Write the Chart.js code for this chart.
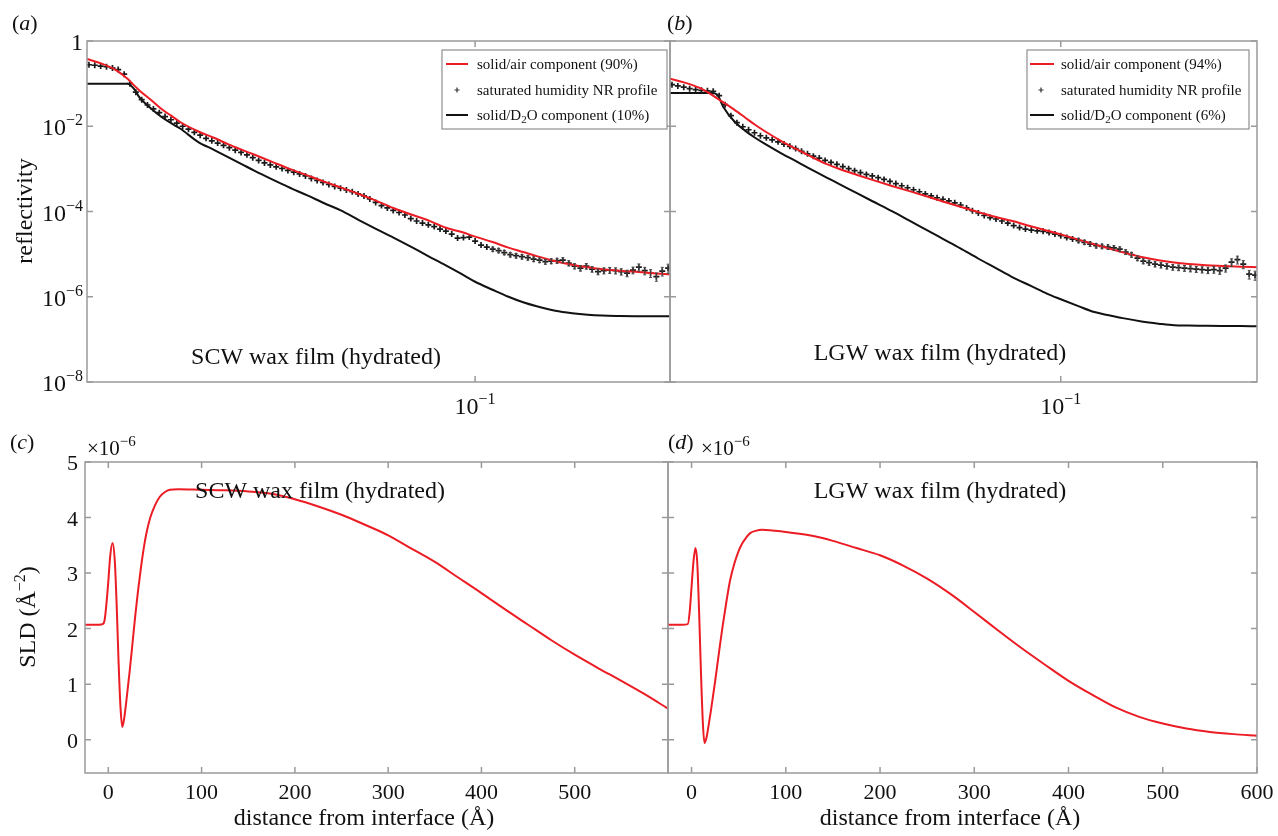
<!DOCTYPE html>
<html>
<head>
<meta charset="utf-8">
<script src="https://cdn.jsdelivr.net/npm/chart.js@4.4.1/dist/chart.umd.min.js"></script>
<style>
    body { margin: 0; background: #fff; width: 1278px; height: 836px; overflow: hidden; position: relative; }
    canvas { position: absolute; left: 0; }
    #chartA, #chartB { top: 0; }
    #chartC, #chartD { top: 420px; }
</style>
</head>
<body>
<canvas id="chartA" width="1278" height="420"></canvas>
<canvas id="chartB" width="1278" height="420"></canvas>
<canvas id="chartC" width="1278" height="416"></canvas>
<canvas id="chartD" width="1278" height="416"></canvas>
<script>
/** DATA */

// measured points, q in 1/Å
const qData = [
    0.01213, 0.01252, 0.01293, 0.01335, 0.01379, 0.01423, 0.01470, 0.01517, 0.01567, 0.01618,
    0.01670, 0.01725, 0.01781, 0.01838, 0.01898, 0.01960, 0.02024, 0.02089, 0.02157, 0.02227,
    0.02300, 0.02373, 0.02450, 0.02530, 0.02612, 0.02697, 0.02784, 0.02875, 0.02968, 0.03065,
    0.03164, 0.03267, 0.03373, 0.03483, 0.03596, 0.03713, 0.03833, 0.03958, 0.04087, 0.04219,
    0.04356, 0.04498, 0.04644, 0.04795, 0.04950, 0.05111, 0.05277, 0.05449, 0.05626, 0.05808,
    0.05997, 0.06192, 0.06393, 0.06601, 0.06815, 0.07037, 0.07265, 0.07501, 0.07745, 0.07997,
    0.08256, 0.08524, 0.08801, 0.09087, 0.09383, 0.09687, 0.1000, 0.1033, 0.1066, 0.1101,
    0.1137, 0.1173, 0.1212, 0.1251, 0.1292, 0.1334, 0.1377, 0.1422, 0.1468, 0.1516,
    0.1565, 0.1615, 0.1668, 0.1722, 0.1778, 0.1836, 0.1895, 0.1957, 0.2021, 0.2086,
    0.2154, 0.2222, 0.2294, 0.2369, 0.2446, 0.2526, 0.2608, 0.2692, 0.2780, 0.2870
];

const reflDataA = [
    0.277, 0.270, 0.258, 0.2485, 0.232, 0.2135, 0.167, 0.100, 0.0631, 0.0420,
    0.0315, 0.0255, 0.0208, 0.0169, 0.0142, 0.0119, 0.0100, 8.55e-3, 7.19e-3, 6.17e-3,
    5.22e-3, 4.56e-3, 4.02e-3, 3.57e-3, 3.15e-3, 2.75e-3, 2.43e-3, 2.14e-3, 1.83e-3, 1.58e-3,
    1.38e-3, 1.24e-3, 1.12e-3, 1.02e-3, 9.22e-4, 8.37e-4, 7.63e-4, 6.84e-4, 5.98e-4, 5.36e-4,
    4.81e-4, 4.32e-4, 3.88e-4, 3.52e-4, 3.21e-4, 2.91e-4, 2.58e-4, 2.32e-4, 1.97e-4, 1.63e-4,
    1.38e-4, 1.21e-4, 1.06e-4, 9.47e-5, 8.27e-5, 6.84e-5, 5.98e-5, 5.36e-5, 4.87e-5, 4.44e-5,
    3.88e-5, 3.48e-5, 2.96e-5, 2.38e-5, 2.45e-5, 2.51e-5, 2.02e-5, 1.63e-5, 1.46e-5, 1.31e-5,
    1.21e-5, 1.09e-5, 9.73e-6, 9.22e-6, 8.73e-6, 8.27e-6, 7.63e-6, 7.22e-6, 6.66e-6, 6.84e-6,
    7.03e-6, 7.22e-6, 6.14e-6, 5.22e-6, 4.68e-6, 5.22e-6, 4.44e-6, 3.88e-6, 4.09e-6, 4.20e-6,
    4.09e-6, 3.88e-6, 3.57e-6, 4.20e-6, 4.94e-6, 4.09e-6, 3.57e-6, 2.96e-6, 3.98e-6, 4.68e-6
];

const reflDataB = [
    0.0947, 0.0883, 0.0827, 0.0763, 0.0722, 0.0696, 0.0677, 0.0659, 0.0522, 0.0321,
    0.0177, 0.0121, 9.73e-3, 8.27e-3, 7.03e-3, 5.98e-3, 5.36e-3, 4.81e-3, 4.32e-3, 3.81e-3,
    3.38e-3, 2.99e-3, 2.58e-3, 2.25e-3, 1.99e-3, 1.79e-3, 1.58e-3, 1.42e-3, 1.28e-3, 1.13e-3,
    1.01e-3, 9.07e-4, 8.18e-4, 7.42e-4, 6.84e-4, 6.21e-4, 5.66e-4, 5.08e-4, 4.51e-4, 4.02e-4,
    3.61e-4, 3.24e-4, 2.91e-4, 2.58e-4, 2.32e-4, 2.10e-4, 1.94e-4, 1.77e-4, 1.60e-4, 1.42e-4,
    1.21e-4, 1.04e-4, 9.22e-5, 8.05e-5, 7.22e-5, 6.66e-5, 5.98e-5, 5.36e-5, 4.68e-5, 4.20e-5,
    3.88e-5, 3.67e-5, 3.53e-5, 3.42e-5, 3.21e-5, 2.96e-5, 2.70e-5, 2.45e-5, 2.25e-5, 2.08e-5,
    1.89e-5, 1.72e-5, 1.58e-5, 1.52e-5, 1.46e-5, 1.40e-5, 1.31e-5, 1.12e-5, 9.73e-6, 8.05e-6,
    6.84e-6, 6.31e-6, 5.82e-6, 5.51e-6, 5.22e-6, 4.94e-6, 4.81e-6, 4.68e-6, 4.56e-6, 4.44e-6,
    4.32e-6, 4.20e-6, 4.32e-6, 4.09e-6, 4.68e-6, 6.48e-6, 7.42e-6, 5.82e-6, 3.38e-6, 3.21e-6
];

// relative error on each measured point
const relErr = [
    0.02, 0.02, 0.02, 0.02, 0.02, 0.02, 0.02, 0.02, 0.02, 0.02,
    0.02, 0.02, 0.02, 0.02, 0.02, 0.02, 0.02, 0.02, 0.02, 0.02,
    0.03, 0.03, 0.03, 0.03, 0.03, 0.035, 0.035, 0.035, 0.035, 0.035,
    0.04, 0.04, 0.04, 0.04, 0.04, 0.045, 0.045, 0.045, 0.045, 0.045,
    0.05, 0.05, 0.05, 0.055, 0.055, 0.055, 0.06, 0.06, 0.06, 0.065,
    0.065, 0.07, 0.07, 0.07, 0.075, 0.075, 0.08, 0.08, 0.085, 0.085,
    0.09, 0.09, 0.095, 0.095, 0.1, 0.1, 0.1, 0.105, 0.105, 0.11,
    0.11, 0.115, 0.115, 0.12, 0.12, 0.12, 0.125, 0.125, 0.13, 0.13,
    0.135, 0.135, 0.14, 0.14, 0.145, 0.15, 0.15, 0.155, 0.16, 0.16,
    0.165, 0.17, 0.175, 0.18, 0.19, 0.2, 0.21, 0.22, 0.23, 0.24
];

// model components
const qFit = [
    0.012, 0.013, 0.014, 0.0145, 0.015, 0.0155, 0.016, 0.017, 0.018, 0.019,
    0.02, 0.022, 0.024, 0.026, 0.028, 0.03, 0.033, 0.036, 0.04, 0.044,
    0.048, 0.053, 0.058, 0.064, 0.07, 0.077, 0.085, 0.093, 0.1, 0.11,
    0.12, 0.13, 0.14, 0.155, 0.17, 0.185, 0.2, 0.22, 0.24, 0.265, 0.29
];

const airFitA = [
    0.377, 0.2955, 0.2135, 0.167, 0.1276, 0.0922, 0.0684, 0.0420, 0.0258, 0.0177,
    0.0124, 7.63e-3, 5.36e-3, 3.77e-3, 2.80e-3, 2.14e-3, 1.46e-3, 1.03e-3, 7.03e-4, 4.94e-4,
    3.67e-4, 2.58e-4, 1.82e-4, 1.21e-4, 8.73e-5, 6.31e-5, 4.20e-5, 3.29e-5, 2.58e-5, 1.92e-5,
    1.42e-5, 1.12e-5, 8.97e-6, 6.84e-6, 5.66e-6, 4.94e-6, 4.44e-6, 4.09e-6, 3.88e-6, 3.57e-6, 3.38e-6
];

const d2oFitA = [
    0.1, 0.1, 0.1, 0.1, 0.1, 0.0763, 0.0468, 0.0265, 0.0167, 0.0118,
    8.73e-3, 4.32e-3, 2.80e-3, 1.87e-3, 1.28e-3, 8.97e-4, 5.66e-4, 3.77e-4, 2.38e-4, 1.54e-4,
    1.06e-4, 6.31e-5, 3.98e-5, 2.45e-5, 1.54e-5, 9.22e-6, 5.51e-6, 3.38e-6, 2.25e-6, 1.46e-6,
    1.0e-6, 7.42e-7, 5.98e-7, 4.68e-7, 4.09e-7, 3.77e-7, 3.61e-7, 3.53e-7, 3.49e-7, 3.48e-7, 3.48e-7
];

const airFitB = [
    0.131, 0.1056, 0.0814, 0.0684, 0.0560, 0.0449, 0.0367, 0.0245, 0.0163, 0.0110,
    7.84e-3, 4.44e-3, 2.82e-3, 1.87e-3, 1.31e-3, 1.01e-3, 7.30e-4, 5.51e-4, 3.98e-4, 3.00e-4,
    2.32e-4, 1.70e-4, 1.29e-4, 9.68e-5, 7.50e-5, 5.98e-5, 4.51e-5, 3.52e-5, 2.91e-5, 2.19e-5,
    1.71e-5, 1.36e-5, 1.10e-5, 8.59e-6, 7.22e-6, 6.35e-6, 5.85e-6, 5.48e-6, 5.28e-6, 5.08e-6, 4.94e-6
];

const d2oFitB = [
    0.06, 0.06, 0.06, 0.06, 0.06, 0.0554, 0.0292, 0.0131, 8.01e-3, 5.45e-3,
    3.96e-3, 2.29e-3, 1.44e-3, 9.32e-4, 6.35e-4, 4.46e-4, 2.72e-4, 1.74e-4, 1.02e-4, 6.11e-5,
    3.81e-5, 2.23e-5, 1.37e-5, 7.79e-6, 4.81e-6, 2.86e-6, 1.80e-6, 1.17e-6, 8.73e-7, 6.04e-7,
    4.37e-7, 3.67e-7, 3.15e-7, 2.64e-7, 2.34e-7, 2.14e-7, 2.11e-7, 2.09e-7, 2.07e-7, 2.05e-7, 2.02e-7
];

// SLD profiles, distance in Å, SLD in units of 1e-6 Å^-2
const distC = [
    -25, -10, -6, -4, -2, 0, 2, 4.5, 7, 9, 11, 13, 15, 17, 19, 21, 23, 26, 29, 32,
    35, 38, 41, 45, 50, 55, 60, 66, 75, 100, 125, 150, 175, 200, 225, 250, 275, 300, 325, 350,
    375, 400, 425, 450, 475, 500, 525, 550, 575, 600
];
const sldC = [
    2.07, 2.07, 2.08, 2.15, 2.45, 2.85, 3.3, 3.54, 3.2, 2.4, 1.4, 0.6, 0.23, 0.38, 0.65, 0.95, 1.25, 1.75, 2.25, 2.7,
    3.1, 3.45, 3.73, 4.0, 4.22, 4.37, 4.45, 4.5, 4.51, 4.5, 4.49, 4.47, 4.43, 4.33, 4.2, 4.05, 3.87, 3.68, 3.44, 3.2,
    2.92, 2.64, 2.35, 2.07, 1.79, 1.53, 1.29, 1.06, 0.82, 0.56
];

const distD = [
    -25, -10, -4, -2, 0, 2, 4.1, 6, 8, 10, 12, 13.7, 16, 18, 20.7, 25, 29, 33, 37.3, 41,
    45.6, 50, 54, 58, 62.2, 68, 74.7, 100, 125, 150, 175, 200, 225, 250, 275, 300, 325, 350, 375, 400,
    425, 450, 475, 500, 525, 550, 575, 600
];
const sldD = [
    2.07, 2.07, 2.08, 2.3, 2.75, 3.2, 3.45, 3.2, 2.3, 1.2, 0.3, -0.06, 0.05, 0.25, 0.54, 1.05, 1.56, 2.05, 2.52, 2.88,
    3.18, 3.4, 3.54, 3.64, 3.72, 3.76, 3.78, 3.74, 3.68, 3.58, 3.45, 3.32, 3.13, 2.9, 2.62, 2.3, 1.97, 1.65, 1.35, 1.06,
    0.81, 0.58, 0.41, 0.29, 0.2, 0.14, 0.1, 0.07
];

const qTicks = [0.1];
const reflTicks = [1e-8, 1e-6, 1e-4, 1e-2, 1];
const distTicksC = [0, 100, 200, 300, 400, 500];
const distTicksD = [0, 100, 200, 300, 400, 500, 600];
const sldTicks = [0, 1, 2, 3, 4, 5];

const legendA = ['solid/air component (90%)', 'saturated humidity NR profile', ['solid/D', '2', 'O component (10%)']];
const legendB = ['solid/air component (94%)', 'saturated humidity NR profile', ['solid/D', '2', 'O component (6%)']];

/** DRAWING HELPERS */

const RED = '#ec1c24';
const INK = '#111111';
const FRAME = '#9a9a9a';
const SERIF = "'Liberation Serif', 'Times New Roman', serif";

const pts = (xs, ys) => xs.map((x, i) => ({ x, y: ys[i] }));

const font = (size, italic) => `${italic ? 'italic ' : ''}${size}px ${SERIF}`;

// runs: [text, size, rise, italic]
const drawRuns = (ctx, runs, x, y, align) => {
    let width = 0;
    runs.forEach(r => { ctx.font = font(r[1], r[3]); width += ctx.measureText(r[0]).width; });
    let cx = align === 'center' ? x - width / 2 : (align === 'right' ? x - width : x);
    ctx.textAlign = 'left';
    ctx.textBaseline = 'alphabetic';
    runs.forEach(r => {
        ctx.font = font(r[1], r[3]);
        ctx.fillText(r[0], cx, y - (r[2] || 0));
        cx += ctx.measureText(r[0]).width;
    });
};

const powerLabel = v => {
    const e = Math.round(Math.log10(v));
    return e === 0 ? [['1', 24]] : [['10', 24], ['\u2212' + (-e), 16, 10]];
};

const plainLabel = v => [[String(v), 22]];

const legendRuns = label => Array.isArray(label)
    ? [[label[0], 15], [label[1], 11, -3], [label[2], 15]]
    : [[label, 15]];

const makeDecor = (cfg) => ({
    id: 'decor',
    afterDatasetsDraw(chart) {
        const ctx = chart.ctx;
        const ys = chart.scales.y;
        chart.data.datasets.forEach((ds, i) => {
            if (!ds.errors) return;
            const meta = chart.getDatasetMeta(i);
            ctx.save();
            ctx.strokeStyle = '#444';
            ctx.lineWidth = 1;
            ctx.beginPath();
            meta.data.forEach((pt, j) => {
                const v = ds.data[j].y;
                const y0 = ys.getPixelForValue(v * (1 + ds.errors[j]));
                const y1 = ys.getPixelForValue(v * (1 - ds.errors[j]));
                if (y1 - y0 < 4) return;
                ctx.moveTo(pt.x, y0); ctx.lineTo(pt.x, y1);
                ctx.moveTo(pt.x - 1.5, y0); ctx.lineTo(pt.x + 1.5, y0);
                ctx.moveTo(pt.x - 1.5, y1); ctx.lineTo(pt.x + 1.5, y1);
            });
            ctx.stroke();
            ctx.restore();
        });
    },
    afterDraw(chart) {
        const ctx = chart.ctx;
        const { left: l, right: r, top: t, bottom: b } = chart.chartArea;
        const xs = chart.scales.x;
        const ys = chart.scales.y;
        ctx.save();

        // box and inward ticks
        ctx.strokeStyle = FRAME;
        ctx.lineWidth = 1.5;
        ctx.strokeRect(l, t, r - l, b - t);
        ctx.beginPath();
        cfg.xTicks.forEach(v => {
            const p = xs.getPixelForValue(v);
            ctx.moveTo(p, b); ctx.lineTo(p, b - 6);
            ctx.moveTo(p, t); ctx.lineTo(p, t + 6);
        });
        cfg.yTicks.forEach(v => {
            const p = ys.getPixelForValue(v);
            ctx.moveTo(l, p); ctx.lineTo(l + 6, p);
            ctx.moveTo(r, p); ctx.lineTo(r - 6, p);
        });
        ctx.stroke();

        ctx.fillStyle = INK;
        if (cfg.xLabel) {
            cfg.xTicks.forEach(v => drawRuns(ctx, cfg.xLabel(v), xs.getPixelForValue(v), b + cfg.xLabelDy, 'center'));
        }
        if (cfg.yLabel) {
            cfg.yTicks.forEach(v => drawRuns(ctx, cfg.yLabel(v), l - cfg.yLabelDx, ys.getPixelForValue(v) + cfg.yLabelDy, 'right'));
        }

        cfg.notes.forEach(n => {
            if (n.rotate) {
                ctx.save();
                ctx.translate(n.x, n.y);
                ctx.rotate(-Math.PI / 2);
                drawRuns(ctx, n.runs, 0, 0, 'center');
                ctx.restore();
            } else {
                drawRuns(ctx, n.runs, n.x, n.y, n.align);
            }
        });

        const lg = cfg.legend;
        if (lg) {
            const [bl, bt, br, bb] = lg.box;
            ctx.fillStyle = '#fff';
            ctx.fillRect(bl, bt, br - bl, bb - bt);
            ctx.strokeStyle = '#8f8f8f';
            ctx.lineWidth = 1.2;
            ctx.strokeRect(bl, bt, br - bl, bb - bt);
            ctx.lineWidth = 2;
            ctx.strokeStyle = RED;
            ctx.beginPath(); ctx.moveTo(lg.line[0], lg.rows[0]); ctx.lineTo(lg.line[1], lg.rows[0]); ctx.stroke();
            ctx.strokeStyle = INK;
            ctx.beginPath(); ctx.moveTo(lg.line[0], lg.rows[2]); ctx.lineTo(lg.line[1], lg.rows[2]); ctx.stroke();
            ctx.lineWidth = 1.2;
            ctx.strokeStyle = '#333';
            ctx.beginPath();
            ctx.moveTo(lg.mark - 2.5, lg.rows[1]); ctx.lineTo(lg.mark + 2.5, lg.rows[1]);
            ctx.moveTo(lg.mark, lg.rows[1] - 2.5); ctx.lineTo(lg.mark, lg.rows[1] + 2.5);
            ctx.stroke();
            ctx.fillStyle = INK;
            lg.labels.forEach((label, i) => drawRuns(ctx, legendRuns(label), lg.text, lg.rows[i] + 5, 'left'));
        }
        ctx.restore();
    }
});

/** PANELS */

const panel = (id, frame, xOpts, yOpts, datasets, cfg) => {
    const canvas = document.getElementById(id);
    const fixTicks = values => s => { s.ticks = values.map(v => ({ value: v })); };
    return new Chart(canvas, {
        type: 'line',
        data: { datasets },
        options: {
            responsive: false,
            animation: false,
            events: [],
            layout: { padding: { left: frame.l - 10, top: frame.t, right: canvas.width - frame.r, bottom: 0 } },
            plugins: { legend: { display: false }, tooltip: { enabled: false } },
            scales: {
                x: Object.assign({
                    grid: { display: false }, border: { display: false }, ticks: { display: false },
                    afterBuildTicks: fixTicks(cfg.xTicks),
                    afterFit: s => { s.height = canvas.height - frame.b; }
                }, xOpts),
                y: Object.assign({
                    grid: { display: false }, border: { display: false }, ticks: { display: false },
                    afterBuildTicks: fixTicks(cfg.yTicks),
                    afterFit: s => { s.width = 10; }
                }, yOpts)
            }
        },
        plugins: [makeDecor(cfg)]
    });
};

const reflSets = (data, air, d2o) => [
    { data: pts(qFit, air), borderColor: RED, borderWidth: 2, pointRadius: 0, cubicInterpolationMode: 'monotone', order: 1 },
    { data: pts(qData, data), showLine: false, pointStyle: 'cross', pointRadius: 3, pointBorderWidth: 1.7,
      borderColor: '#1a1a1a', backgroundColor: '#1a1a1a', errors: relErr, order: 2 },
    { data: pts(qFit, d2o), borderColor: INK, borderWidth: 2, pointRadius: 0, cubicInterpolationMode: 'monotone', order: 3 }
];

const sldSet = (xs, ys) => [
    { data: pts(xs, ys), borderColor: RED, borderWidth: 2, pointRadius: 0, cubicInterpolationMode: 'monotone' }
];

const qAxis = { type: 'logarithmic', min: 0.012, max: 0.29 };
const reflAxis = { type: 'logarithmic', min: 1e-8, max: 1 };
const distAxis = { type: 'linear', min: -25, max: 600 };
const sldAxis = { type: 'linear', min: -0.6, max: 5 };

const letter = (ch, x, y) => ({ runs: [['(', 22], [ch, 22, 0, true], [')', 22]], x, y, align: 'left' });
const exponent = (x, y) => ({ runs: [['\u00d710', 21], ['\u22126', 15, 9]], x, y, align: 'left' });
const distTitle = (x, y) => ({ runs: [['distance from interface (\u00c5)', 24]], x, y, align: 'center' });

panel('chartA', { l: 87, r: 670, t: 41, b: 382 }, qAxis, reflAxis, reflSets(reflDataA, airFitA, d2oFitA), {
    xTicks: qTicks, yTicks: reflTicks,
    xLabel: powerLabel, xLabelDy: 32,
    yLabel: powerLabel, yLabelDx: 4, yLabelDy: 9,
    notes: [
        letter('a', 12, 30),
        { runs: [['reflectivity', 24]], x: 32, y: 211, rotate: true },
        { runs: [['SCW wax film (hydrated)', 24]], x: 316, y: 364, align: 'center' }
    ],
    legend: { box: [442, 50, 667, 129], line: [446, 468], mark: 457, text: 477, rows: [64, 90, 115], labels: legendA }
});

panel('chartB', { l: 670, r: 1257, t: 41, b: 382 }, qAxis, reflAxis, reflSets(reflDataB, airFitB, d2oFitB), {
    xTicks: qTicks, yTicks: reflTicks,
    xLabel: powerLabel, xLabelDy: 32,
    notes: [
        letter('b', 667, 30),
        { runs: [['LGW wax film (hydrated)', 24]], x: 940, y: 360, align: 'center' }
    ],
    legend: { box: [1027, 50, 1249, 129], line: [1030, 1054], mark: 1041, text: 1061, rows: [64, 90, 115], labels: legendB }
});

panel('chartC', { l: 85, r: 668, t: 42, b: 353 }, distAxis, sldAxis, sldSet(distC, sldC), {
    xTicks: distTicksC, yTicks: sldTicks,
    xLabel: plainLabel, xLabelDy: 26,
    yLabel: plainLabel, yLabelDx: 7, yLabelDy: 8,
    notes: [
        letter('c', 10, 29),
        exponent(87, 35),
        { runs: [['SLD (\u00c5', 24], ['\u22122', 16, 10], [')', 24]], x: 35, y: 197, rotate: true },
        { runs: [['SCW wax film (hydrated)', 24]], x: 320, y: 78, align: 'center' },
        distTitle(364, 405)
    ]
});

panel('chartD', { l: 668, r: 1257, t: 42, b: 353 }, distAxis, sldAxis, sldSet(distD, sldD), {
    xTicks: distTicksD, yTicks: sldTicks,
    xLabel: plainLabel, xLabelDy: 26,
    notes: [
        letter('d', 668, 29),
        exponent(701, 35),
        { runs: [['LGW wax film (hydrated)', 24]], x: 940, y: 78, align: 'center' },
        distTitle(950, 405)
    ]
});
</script>
</body>
</html>
